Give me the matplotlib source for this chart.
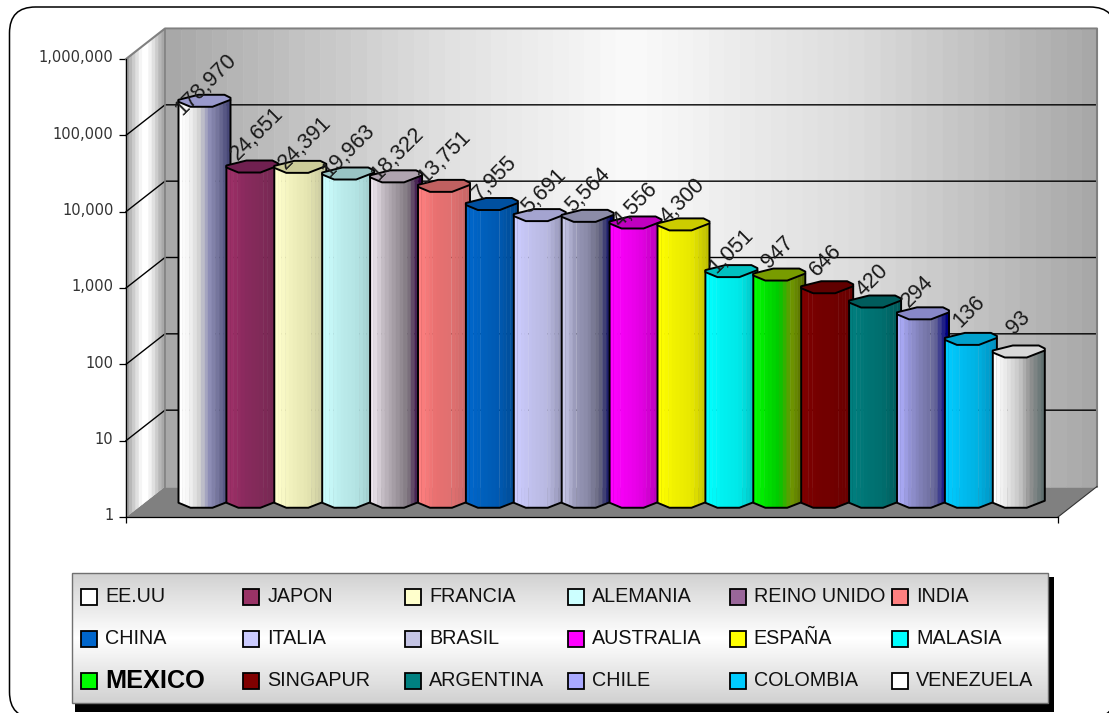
import numpy as np
import matplotlib
matplotlib.use('Agg')
import matplotlib.pyplot as plt
from matplotlib.colors import LinearSegmentedColormap
from matplotlib.patches import Polygon, Rectangle, FancyBboxPatch
from matplotlib.ticker import FuncFormatter
from matplotlib.transforms import IdentityTransform, ScaledTranslation

plt.rcParams['font.family'] = ['Liberation Sans', 'DejaVu Sans']

countries = ['EE.UU', 'JAPON', 'FRANCIA', 'ALEMANIA', 'REINO UNIDO', 'INDIA',
             'CHINA', 'ITALIA', 'BRASIL', 'AUSTRALIA', 'ESPAÑA', 'MALASIA',
             'MEXICO', 'SINGAPUR', 'ARGENTINA', 'CHILE', 'COLOMBIA', 'VENEZUELA']
values = [178970, 24651, 24391, 19963, 18322, 13751, 7955, 5691, 5564,
          4556, 4300, 1051, 947, 646, 420, 294, 136, 93]
yticks = [1, 10, 100, 1000, 10000, 100000, 1000000]

swatch_colors = ['#ffffff', '#993366', '#ffffcc', '#ccffff', '#996699', '#ff8080',
                 '#0066cc', '#ccccff', '#c4c4e4', '#ff00ff', '#ffff00', '#00ffff',
                 '#00ff00', '#800000', '#008080', '#aaaaff', '#00ccff', '#ffffff']
cap_colors = ['#9999cc', '#702050', '#cccc99', '#99c4c4', '#b0a4b0', '#c06060',
              '#0050a0', '#a4a4d0', '#8c8ca8', '#c000c0', '#cccc00', '#00c0c0',
              '#789c00', '#600000', '#005c5c', '#8888c8', '#00a0cc', '#d8d8d8']
# left to right shading of each column
column_shades = [
    ['#ffffff', '#f4f4f4', '#d0d0d0', '#9090b8', '#707098', '#484878'],
    ['#a03068', '#8a2a5e', '#802a58', '#752852'],
    ['#ffffcc', '#f0f0bc', '#e4e4b0', '#c8c8a0'],
    ['#ccffff', '#bcecec', '#b4e4e4', '#a0cccc'],
    ['#f0e8f0', '#c0b8c0', '#a098a0', '#807880', '#300040'],
    ['#ff8080', '#e87070', '#e07070', '#c86666'],
    ['#0066cc', '#0060bc', '#0058b0', '#004a90'],
    ['#ccccff', '#c0c0ec', '#b8b8e0', '#9090b0'],
    ['#c8c8e8', '#9898b8', '#8a8aa8', '#686880', '#000060'],
    ['#ff00ff', '#f000f0', '#e000e0', '#b000b0'],
    ['#ffff00', '#f0f000', '#e8e800', '#c0c000'],
    ['#00ffff', '#00f0f0', '#00e8e8', '#00c0c0'],
    ['#00ff00', '#00e000', '#00c800', '#6e9600', '#5a7000'],
    ['#800000', '#740000', '#700000', '#680000'],
    ['#008080', '#007474', '#006e6e', '#005a5a'],
    ['#b0b0ff', '#9090d0', '#7c7cb0', '#686898', '#000080'],
    ['#00ccff', '#00bcf0', '#00b0e0', '#0090c0'],
    ['#ffffff', '#e8e8e8', '#c8c8c8', '#909090', '#607070'],
]
# pixel shift of each value label from the top of its column
label_nudge = [(1.5, 16), (5, 33), (5, 24), (0, 23), (1.5, 23), (0, 29), (3, 26), (4, 24), (0, 26),
               (0, 17), (-1, 23), (0, 20), (-2, 22), (-1, 27), (-2.5, 21), (-5.5, 22), (-2, 27), (0, 29)]

W, H = 1109, 713
DEPTH_X, DEPTH_Y = 39, 30.5
AX_LEFT, AX_RIGHT, AX_TOP, AX_BOTTOM = 126, 1058, 59, 517
STEP = 47.9
FIRST = 185

# upper and lower rim of a column, in pixels around its centre
RIM = [(-26, -1), (-14, -6), (8, -6), (26, 1), (26, 3), (20, 6), (-6, 6), (-26, 1)]
FRONT_U = [-26, -14, 8, 26]
FRONT_V = [-1, -6, -6, 1]

fig = plt.figure(figsize=(W / 100, H / 100), dpi=100, facecolor='white')

# page layer in pixel coordinates: frame and legend
bg = fig.add_axes([0, 0, 1, 1])
bg.set_xlim(0, W)
bg.set_ylim(H, 0)
bg.axis('off')
bg.add_patch(FancyBboxPatch((9.5, 7), 1116 - 9.5, 718 - 7, boxstyle='round,pad=0,rounding_size=26',
                            fc='white', ec='black', lw=1.1))

bg.add_patch(Rectangle((75, 577), 979, 135, fc='black', ec='none', zorder=2))
grad = np.interp(np.linspace(0, 1, 64), [0, 0.5, 1], [0.82, 1.0, 0.82]).reshape(-1, 1)
bg.imshow(grad, extent=(72, 1048, 703, 573), cmap='gray', vmin=0, vmax=1, aspect='auto', zorder=3)
bg.set_xlim(0, W)
bg.set_ylim(H, 0)
bg.add_patch(Rectangle((72, 573), 976, 130, fc='none', ec='#707070', lw=1, zorder=4))

for n, name in enumerate(countries):
    col = n % 6
    row = n // 6
    x = 81 + 162.2 * col
    y = 597 + 42 * row
    bg.add_patch(Rectangle((x, y - 8), 16, 16, fc=swatch_colors[n], ec='black', lw=1.3, zorder=4))
    if name == 'MEXICO':
        bg.text(x + 24, y, name, fontsize=18.2, fontweight='bold', va='center', zorder=5)
    else:
        bg.text(x + 24, y, name, fontsize=14.2, color='#111111', va='center', zorder=5)

# chart layer: the front plane of the box carries the log scale
ax = fig.add_axes([AX_LEFT / W, 1 - AX_BOTTOM / H, (AX_RIGHT - AX_LEFT) / W, (AX_BOTTOM - AX_TOP) / H])
ax.patch.set_visible(False)
ax.set_yscale('log')
ax.set_xlim((AX_LEFT - FIRST) / STEP, (AX_RIGHT - FIRST) / STEP)
ax.set_ylim(yticks[0], yticks[-1])
ax.set_yticks(yticks)
ax.minorticks_off()
ax.yaxis.set_major_formatter(FuncFormatter(lambda v, pos: f'{v:,.0f}'))
ax.set_xticks(ax.get_xlim())
ax.set_xticklabels([])
ax.tick_params(axis='y', direction='out', length=5, width=0.9, pad=4, labelsize=10.5, labelcolor='#333333')
ax.tick_params(axis='x', direction='out', length=4.3, width=0.9)
lift = ScaledTranslation(0, 2 / 72, fig.dpi_scale_trans)
for lab in ax.get_yticklabels():
    lab.set_family('DejaVu Sans')
    lab.set_transform(lab.get_transform() + lift)
ax.spines['top'].set_visible(False)
ax.spines['right'].set_visible(False)
ax.spines['left'].set_linewidth(0.9)
ax.spines['bottom'].set_linewidth(0.9)


def px(x, y, dx=0, dy=0):
    # data point to screen pixels, shifted back into the box
    p = ax.transData.transform((x, y))
    return p[0] + dx, p[1] + dy


def poly(points, **kw):
    kw.setdefault('clip_on', False)
    ax.add_patch(Polygon(points, closed=True, transform=IdentityTransform(), **kw))


x0, x1 = ax.get_xlim()
y0, y1 = ax.get_ylim()

# floor
poly([px(x0, y0), px(x1, y0), px(x1, y0, DEPTH_X, DEPTH_Y), px(x0, y0, DEPTH_X, DEPTH_Y)],
     fc='#808080', ec='none', zorder=1)

# back wall, bands run from grey over near white back to grey
edges = np.linspace(x0, x1, 61)
wall_grey = np.interp(np.linspace(0, 1, 60), [0, 0.3, 0.5, 0.75, 1], [0.66, 0.88, 0.98, 0.86, 0.66])
for k in range(60):
    c = str(wall_grey[k])
    poly([px(edges[k], y0, DEPTH_X, DEPTH_Y), px(edges[k + 1], y0, DEPTH_X, DEPTH_Y),
          px(edges[k + 1], y1, DEPTH_X, DEPTH_Y), px(edges[k], y1, DEPTH_X, DEPTH_Y)],
         fc=c, ec=c, lw=0.4, zorder=1)

# side wall
side_grey = [0.62, 0.72, 0.8, 0.88, 0.96, 1.0, 1.0, 0.95, 0.88, 0.8, 0.72, 0.66]
for k, g in enumerate(side_grey):
    t0 = k / len(side_grey)
    t1 = (k + 1) / len(side_grey)
    poly([px(x0, y0, t0 * DEPTH_X, t0 * DEPTH_Y), px(x0, y0, t1 * DEPTH_X, t1 * DEPTH_Y),
          px(x0, y1, t1 * DEPTH_X, t1 * DEPTH_Y), px(x0, y1, t0 * DEPTH_X, t0 * DEPTH_Y)],
         fc=str(g), ec=str(g), lw=0.4, zorder=1)

# gridlines on both walls
for v in yticks[1:-1]:
    a = px(x0, v)
    b = px(x0, v, DEPTH_X, DEPTH_Y)
    c = px(x1, v, DEPTH_X, DEPTH_Y)
    ax.plot([a[0], b[0], c[0]], [a[1], b[1], c[1]], color='black', lw=1.0,
            transform=IdentityTransform(), clip_on=False, zorder=1.5)

# wall outline
a = px(x0, y1)
b = px(x0, y1, DEPTH_X, DEPTH_Y)
c = px(x1, y1, DEPTH_X, DEPTH_Y)
d = px(x1, y0, DEPTH_X, DEPTH_Y)
e = px(x0, y0, DEPTH_X, DEPTH_Y)
ax.plot([a[0], b[0], c[0], d[0]], [a[1], b[1], c[1], d[1]], color='#808080', lw=1.5,
        transform=IdentityTransform(), clip_on=False, zorder=1.6)
ax.plot([b[0], e[0]], [b[1], e[1]], color='#808080', lw=1.2,
        transform=IdentityTransform(), clip_on=False, zorder=1.6)
f = px(x1, y0)
ax.plot([f[0], d[0]], [f[1], d[1]], color='#333333', lw=0.8,
        transform=IdentityTransform(), clip_on=False, zorder=1.6)

# columns, later ones overlap the earlier ones
N_BANDS = 14
for i, v in enumerate(values):
    z = 3 + i * 0.01
    top = np.array(px(i, v, DEPTH_X / 2, DEPTH_Y / 2))
    base = np.array(px(i, 1, DEPTH_X / 2, DEPTH_Y / 2))
    cmap = LinearSegmentedColormap.from_list('col', column_shades[i])
    us = np.linspace(-26, 26, N_BANDS + 1)
    for k in range(N_BANDS):
        u0, u1 = us[k], us[k + 1]
        c = cmap(k / (N_BANDS - 1))
        poly([(top[0] + u0, top[1]), (top[0] + u1, top[1]),
              (base[0] + u1, base[1] + np.interp(u1, FRONT_U, FRONT_V)),
              (base[0] + u0, base[1] + np.interp(u0, FRONT_U, FRONT_V))],
             fc=c, ec=c, lw=0.3, zorder=z)
    outline = [(top[0] - 26, top[1])]
    outline += [(base[0] + u, base[1] + w) for u, w in zip(FRONT_U, FRONT_V)]
    outline += [(top[0] + 26, top[1])]
    ax.plot([p[0] for p in outline], [p[1] for p in outline], color='black', lw=1.4,
            transform=IdentityTransform(), clip_on=False, zorder=z + 0.001, solid_joinstyle='round')
    poly([(top[0] + u, top[1] + w) for u, w in RIM], fc=cap_colors[i], ec='black', lw=1.4,
         zorder=z + 0.002, joinstyle='round')

# value labels sit on the columns at 45 degrees
for i, v in enumerate(values):
    ndx, ndy = label_nudge[i]
    ax.annotate(f'{v:,}', xy=(i, v), xytext=(DEPTH_X / 2 + ndx, DEPTH_Y / 2 + ndy),
                textcoords='offset pixels', rotation=45, ha='center', va='center',
                rotation_mode='anchor', fontsize=15.5, color='#1a1a1a', annotation_clip=False, zorder=5)

fig.savefig('out.png', dpi=100)
